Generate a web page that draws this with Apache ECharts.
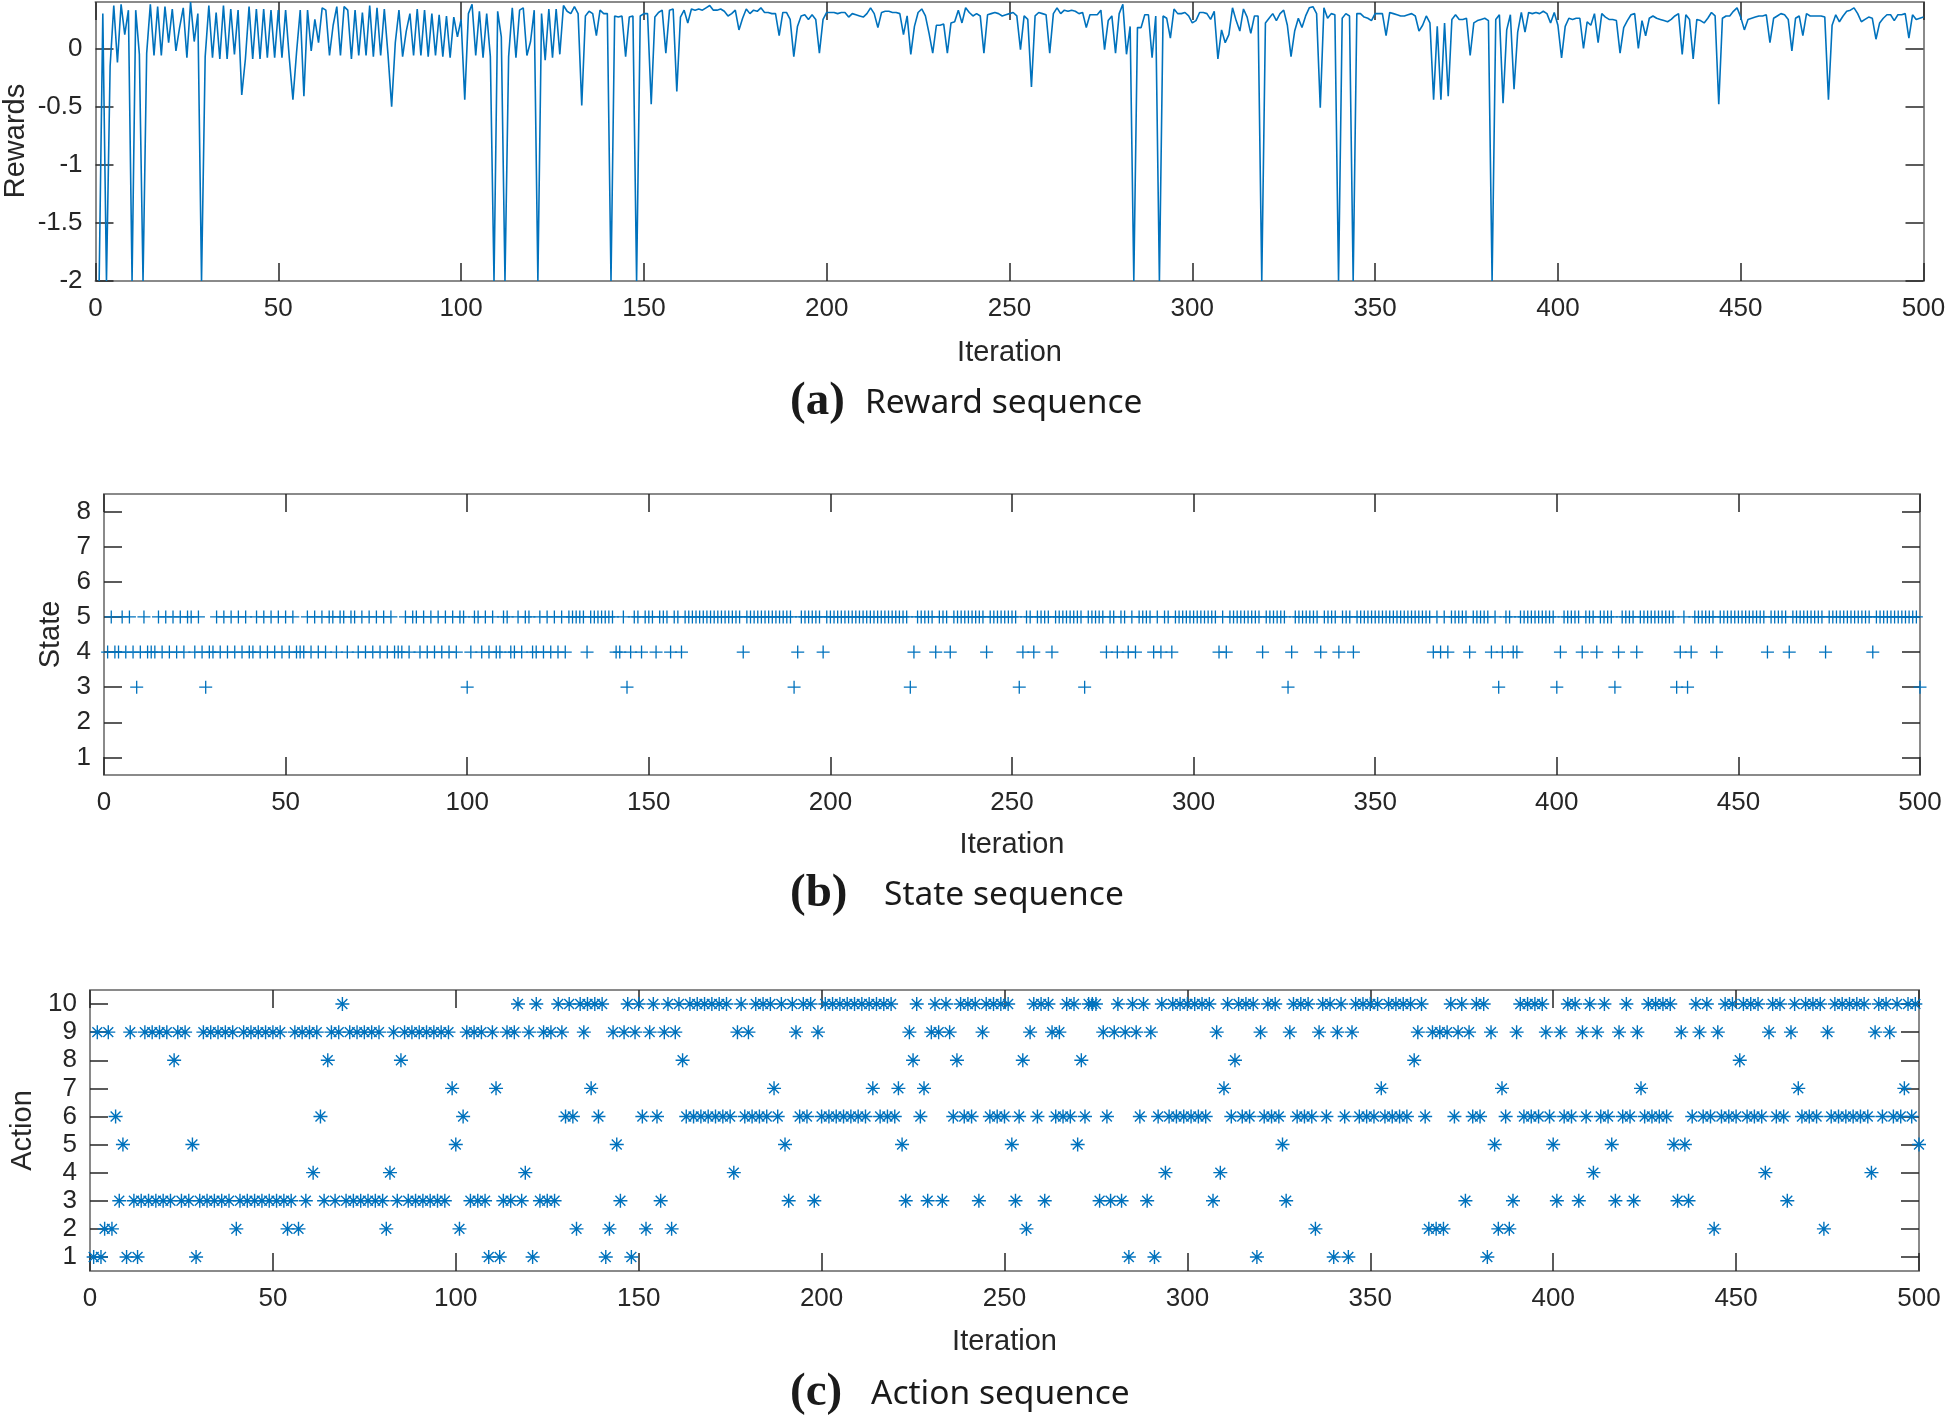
<!DOCTYPE html>
<html><head><meta charset="utf-8">
<script src="https://cdn.jsdelivr.net/npm/echarts@6/dist/echarts.min.js"></script>
<style>html,body{margin:0;padding:0;background:#fff}#c{width:1946px;height:1418px}</style>
</head><body><div id="c"></div>
<script>
const rewards = [
-2,0.3,-2,-0.15,0.37,-0.12,0.38,0.12,0.33,-2,
0.33,-0.05,-2,-0.04,0.38,-0.06,0.36,-0.06,0.36,0.05,
0.34,-0.02,0.18,0.35,-0.08,0.4,0.06,0.3,-2,-0.07,
0.37,-0.08,0.31,-0.09,0.37,-0.09,0.34,-0.05,0.33,-0.4,
-0.09,0.36,-0.09,0.34,-0.09,0.34,-0.08,0.33,-0.08,0.33,
-0.08,0.33,-0.08,-0.44,-0.03,0.33,-0.41,0.33,-0.02,0.25,
0.05,0.35,0.33,-0.06,0.2,0.36,-0.06,0.36,0.33,-0.09,
0.33,-0.06,0.31,-0.06,0.37,-0.07,0.35,-0.06,0.34,-0.05,
-0.5,0.05,0.33,-0.07,0.15,0.3,-0.06,0.34,-0.06,0.33,
-0.07,0.3,-0.06,0.29,-0.07,0.28,-0.08,0.27,0.1,0.25,
-0.44,0.3,0.38,-0.06,0.32,-0.08,0.3,-0.07,-2,0.32,
0.1,-2,-0.07,0.35,-0.08,0.33,0.35,-0.06,0.06,0.33,
-2,0.3,-0.1,0.34,-0.08,0.34,-0.05,0.37,0.32,0.3,
0.36,0.3,-0.49,0.28,0.32,0.3,0.11,0.33,0.3,0.3,
-2,0.28,0.27,0.28,-0.07,0.27,0.28,-2,0.28,0.3,
0.3,-0.48,0.27,0.31,0.33,-0.04,0.33,0.34,-0.37,0.27,
0.33,0.22,0.34,0.33,0.34,0.33,0.35,0.37,0.33,0.33,
0.34,0.32,0.28,0.3,0.33,0.16,0.26,0.34,0.3,0.33,
0.32,0.35,0.31,0.31,0.3,0.3,0.11,0.31,0.31,0.25,
-0.07,0.19,0.28,0.29,0.25,0.29,0.25,-0.04,0.25,0.31,
0.31,0.31,0.3,0.31,0.31,0.27,0.3,0.29,0.28,0.27,
0.3,0.35,0.3,0.18,0.31,0.32,0.32,0.31,0.31,0.3,
0.12,0.28,-0.05,0.19,0.31,0.34,0.28,0.13,-0.04,0.2,
0.2,0.21,-0.04,0.22,0.23,0.33,0.22,0.35,0.31,0.28,
0.3,0.28,-0.04,0.29,0.3,0.31,0.3,0.28,0.29,0.3,
0.31,0.28,-0.01,0.28,0.25,-0.33,0.28,0.31,0.3,0.29,
-0.04,0.3,0.35,0.3,0.33,0.32,0.33,0.32,0.3,0.31,
0.18,0.29,0.29,0.29,0.33,-0.01,0.24,0.28,-0.04,0.3,
0.38,-0.05,0.19,-2,0.18,0.18,0.29,0.29,-0.08,0.28,
-2,0.28,0.26,0.09,0.34,0.3,0.3,0.31,0.28,0.22,
0.24,0.31,0.31,0.3,0.25,0.32,-0.09,0.16,0.05,0.12,
0.35,0.24,0.15,0.34,0.27,0.13,0.28,0.28,-2,0.22,
0.26,0.3,0.24,0.3,0.33,0.2,-0.07,0.15,0.26,0.18,
0.28,0.35,0.36,0.3,-0.51,0.35,0.26,0.3,0.29,-2,
0.26,0.3,0.28,-2,0.3,0.3,0.27,0.26,0.24,0.3,
0.3,0.3,0.11,0.31,0.3,0.29,0.28,0.28,0.29,0.3,
0.28,0.15,0.2,0.28,0.22,-0.44,0.19,-0.44,0.22,-0.41,
0.25,0.29,0.25,0.25,0.26,-0.06,0.22,0.24,0.25,0.26,
0.24,-2,0.25,0.29,-0.47,0.16,0.29,-0.35,0.14,0.31,
0.14,0.31,0.3,0.31,0.3,0.32,0.3,0.22,0.31,0.2,
-0.08,0.19,0.26,0.25,0.26,0.26,0.0,0.23,0.2,0.3,
0.05,0.3,0.27,0.25,0.25,0.24,-0.04,0.18,0.24,0.29,
0.3,0.0,0.24,0.11,0.26,0.28,0.26,0.25,0.24,0.23,
0.25,0.28,0.3,-0.05,0.29,0.25,-0.09,0.25,0.24,0.22,
0.26,0.31,0.28,-0.48,0.26,0.28,0.28,0.32,0.35,0.27,
0.16,0.25,0.26,0.27,0.28,0.28,0.29,0.05,0.26,0.28,
0.3,0.29,0.25,-0.02,0.26,0.28,0.11,0.3,0.28,0.28,
0.28,0.28,0.27,-0.44,0.2,0.29,0.23,0.28,0.32,0.33,
0.35,0.3,0.23,0.25,0.27,0.26,0.08,0.22,0.26,0.29,
0.29,0.24,0.29,0.29,0.3,0.09,0.29,0.25,0.26,0.27];

const states = [
4,5,4,4,5,4,5,4,3,4, 5,4,4,4,5,4,5,4,5,4, 5,4,5,5,4,5,4,3,4,4, 5,4,5,4,5,4,5,4,5,4,
4,5,4,5,4,5,4,5,4,5, 4,5,4,4,4,5,4,5,4,5, 4,5,5,4,5,5,4,5,5,4, 5,4,5,4,5,4,5,4,5,4,
4,4,5,4,5,5,4,5,4,5, 4,5,4,5,4,5,4,5,5,3, 4,5,5,4,5,4,5,4,4,5, 5,4,4,5,4,5,5,4,4,5,
4,5,4,5,4,5,4,5,5,5, 5,5,4,5,5,5,5,5,5,5, 4,4,5,3,4,5,5,4,5,5, 5,4,5,5,5,4,5,5,4,5,
5,5,5,5,5,5,5,5,5,5, 5,5,5,5,5,4,5,5,5,5, 5,5,5,5,5,5,5,5,5,3, 4,5,5,5,5,5,5,4,5,5,
5,5,5,5,5,5,5,5,5,5, 5,5,5,5,5,5,5,5,5,5, 5,3,4,5,5,5,5,5,4,5, 5,5,4,5,5,5,5,5,5,5,
5,5,4,5,5,5,5,5,5,5, 5,3,4,5,5,4,5,5,5,5, 4,5,5,5,5,5,5,5,5,3, 5,5,5,5,5,4,5,5,4,5,
5,4,5,4,5,5,5,5,4,5, 4,5,5,4,5,5,5,5,5,5, 5,5,5,5,5,5,4,5,4,5, 5,5,5,5,5,5,5,5,4,5,
5,5,5,5,5,3,4,5,5,5, 5,5,5,5,4,5,5,5,5,4, 5,5,5,4,5,5,5,5,5,5, 5,5,5,5,5,5,5,5,5,5,
5,5,5,5,5,4,5,4,5,4, 5,5,5,5,5,4,5,5,5,5, 5,4,5,3,4,5,5,4,4,5, 5,5,5,5,5,5,5,5,5,3,
4,5,5,5,5,5,4,5,5,5, 4,5,5,5,5,3,4,5,5,5, 5,4,5,5,5,5,5,5,5,5, 5,5,3,4,5,3,4,5,5,5,
5,5,5,4,5,5,5,5,5,5, 5,5,5,5,5,5,5,4,5,5, 5,5,5,4,5,5,5,5,5,5, 5,5,5,4,5,5,5,5,5,5,
5,5,5,5,5,5,4,5,5,5, 5,5,5,5,5,5,5,5,5,3];

const actions = [
1,9,1,2,9,2,6,3,5,1, 9,3,1,3,9,3,9,3,9,3, 9,3,8,9,3,9,3,5,1,3, 9,3,9,3,9,3,9,3,9,2,
3,9,3,9,3,9,3,9,3,9, 3,9,3,2,3,9,2,9,3,9, 4,9,6,3,8,9,3,9,10,3, 9,3,9,3,9,3,9,3,9,3,
2,4,9,3,8,9,3,9,3,9, 3,9,3,9,3,9,3,9,7,5, 2,6,9,3,9,3,9,3,1,9, 7,1,3,9,3,9,10,3,4,9,
1,10,3,9,3,9,3,10,9,6, 10,6,2,10,9,10,7,10,6,10, 1,2,9,5,3,9,10,1,9,10, 6,2,9,10,6,3,9,10,2,9,
10,8,6,10,6,10,6,10,6,10, 6,10,6,10,6,4,9,10,6,9, 6,10,6,10,6,10,7,6,10,5, 3,10,9,6,10,6,10,3,9,6,
10,6,10,6,10,6,10,6,10,6, 10,6,10,7,10,6,10,6,10,6, 7,5,3,9,8,10,6,7,3,9, 10,9,3,10,9,6,8,10,6,10,
6,10,3,9,10,6,10,6,10,6, 10,5,3,6,8,2,9,10,6,10, 3,10,9,6,9,6,10,6,10,5, 8,6,10,10,10,3,9,6,3,9,
10,3,9,1,10,9,6,10,3,9, 1,6,10,4,6,10,6,10,6,10, 6,10,6,10,6,10,3,9,4,7, 10,6,8,10,6,10,6,10,1,9,
6,10,6,10,6,5,3,9,10,6, 10,6,10,6,2,9,10,6,10,1, 9,10,6,1,9,10,6,10,6,10, 6,10,7,6,10,6,10,6,10,6,
10,8,9,10,6,2,9,2,9,2, 9,10,6,9,10,3,9,6,10,6, 10,1,9,5,2,7,6,2,3,9, 10,6,10,6,10,6,10,9,6,5,
3,9,6,10,6,10,3,9,6,10, 4,9,6,10,6,5,3,9,6,10, 6,3,9,7,6,10,6,10,6,10, 6,10,5,3,9,5,3,6,10,9,
6,10,6,2,9,6,10,6,10,6, 8,10,6,10,6,10,6,4,9,10, 6,10,6,3,9,10,7,6,10,6, 10,6,10,2,9,6,10,6,10,6,
10,6,10,6,10,6,4,9,10,6, 10,9,6,10,6,7,10,6,10,5];

const xTicks = [0,50,100,150,200,250,300,350,400,450,500];
const rewardTicks = [-2,-1.5,-1,-0.5,0];
const stateTicks = [1,2,3,4,5,6,7,8];
const actionTicks = [1,2,3,4,5,6,7,8,9,10];

const iterations = rewards.map((_, k) => k + 1);

const AX = '#262626', BOX = '#8a8a8a', BLUE = '#0072BD';
const FONT = '"Liberation Sans", Arial, Helvetica, sans-serif';

function armPath(angles, L, T) {
  let d = '';
  for (const a of angles) {
    const r = a * Math.PI / 180, c = Math.cos(r), s = Math.sin(r);
    const pts = [[-L,-T],[L,-T],[L,T],[-L,T]].map(([x,y]) => [x*c - y*s + 50, x*s + y*c + 50]);
    d += 'M ' + pts.map(p => p[0].toFixed(2) + ' ' + p[1].toFixed(2)).join(' L ') + ' Z ';
  }
  return 'path://' + d;
}
const PLUS = armPath([0, 90], 50, 5);
const STAR = armPath([0, 45, 90, 135], 50, 5);

function xAxes(g, gap) {
  const common = {type:'value', gridIndex:g, min:0, max:500, interval:50, splitLine:{show:false},
    axisLine:{show:true, onZero:false, lineStyle:{color:BOX, width:2}},
    axisTick:{show:true, inside:true, length:18, lineStyle:{color:AX, width:1.5}}};
  return [
    Object.assign({}, common, {position:'bottom',
      axisLabel:{show:true, margin:15, fontSize:26, color:AX, fontFamily:FONT, customValues:xTicks},
      name:'Iteration', nameLocation:'middle', nameGap:gap,
      nameTextStyle:{fontSize:29, color:AX, fontFamily:FONT}}),
    Object.assign({}, common, {position:'top', axisLabel:{show:false}})
  ];
}
function yAxes(g, min, max, ticks, name, gap) {
  const common = {type:'value', gridIndex:g, min:min, max:max, splitLine:{show:false},
    axisLine:{show:true, onZero:false, lineStyle:{color:BOX, width:2}},
    axisTick:{show:true, inside:true, length:18, customValues:ticks, lineStyle:{color:AX, width:1.5}}};
  return [
    Object.assign({}, common, {position:'left',
      axisLabel:{show:true, customValues:ticks, margin:13, fontSize:26, color:AX, fontFamily:FONT},
      name:name, nameLocation:'middle', nameRotate:90, nameGap:gap,
      nameTextStyle:{fontSize:29, color:AX, fontFamily:FONT}}),
    Object.assign({}, common, {position:'right', axisLabel:{show:false}})
  ];
}

function caption(tag, text, y, x2) {
  return [
    {type:'text', x:790, y:y, style:{text:tag, fontFamily:'"Liberation Serif", "Times New Roman", serif',
      fontWeight:'bold', fontSize:47, fill:'#1a1a1a', align:'left', verticalAlign:'middle'}},
    {type:'text', x:x2, y:y + 1, style:{text:text, fontFamily:'"Noto Sans", sans-serif',
      fontSize:33.5, fill:'#1a1a1a', align:'left', verticalAlign:'middle'}}
  ];
}

const chart = echarts.init(document.getElementById('c'), null, {renderer:'canvas'});
chart.setOption({
  animation:false,
  backgroundColor:'#fff',
  grid:[
    {left:95.5, top:2, width:1828, height:279, outerBoundsMode:'none', containLabel:false},
    {left:104, top:494, width:1816, height:281, outerBoundsMode:'none', containLabel:false},
    {left:90, top:990, width:1829, height:281, outerBoundsMode:'none', containLabel:false}
  ],
  xAxis:[].concat(xAxes(0, 57), xAxes(1, 55), xAxes(2, 56)),
  yAxis:[].concat(
    yAxes(0, -2, 0.4, rewardTicks, '', 50),
    yAxes(1, 0.5, 8.5, stateTicks, 'State', 28),
    yAxes(2, 0.5, 10.5, actionTicks, 'Action', 45)),
  series:[
    {type:'line', xAxisIndex:0, yAxisIndex:0, data:iterations.map((it,k)=>[it, rewards[k]]),
      symbol:'none', lineStyle:{color:BLUE, width:1.6}, clip:true},
    {type:'scatter', xAxisIndex:2, yAxisIndex:2, data:iterations.map((it,k)=>[it, states[k]]),
      symbol:PLUS, symbolSize:13, itemStyle:{color:BLUE, opacity:1}},
    {type:'scatter', xAxisIndex:4, yAxisIndex:4, data:iterations.map((it,k)=>[it, actions[k]]),
      symbol:STAR, symbolSize:14, itemStyle:{color:BLUE, opacity:1}}
  ],
  graphic:[].concat(
    [{type:'text', x:16, y:141, rotation:Math.PI/2,
      style:{text:'Rewards', fontFamily:FONT, fontSize:29, fill:AX, align:'center', verticalAlign:'middle'}}],
    caption('(a)', 'Reward sequence', 402, 865),
    caption('(b)', 'State sequence', 894, 884),
    caption('(c)', 'Action sequence', 1393, 871))
});
</script>
</body></html>
